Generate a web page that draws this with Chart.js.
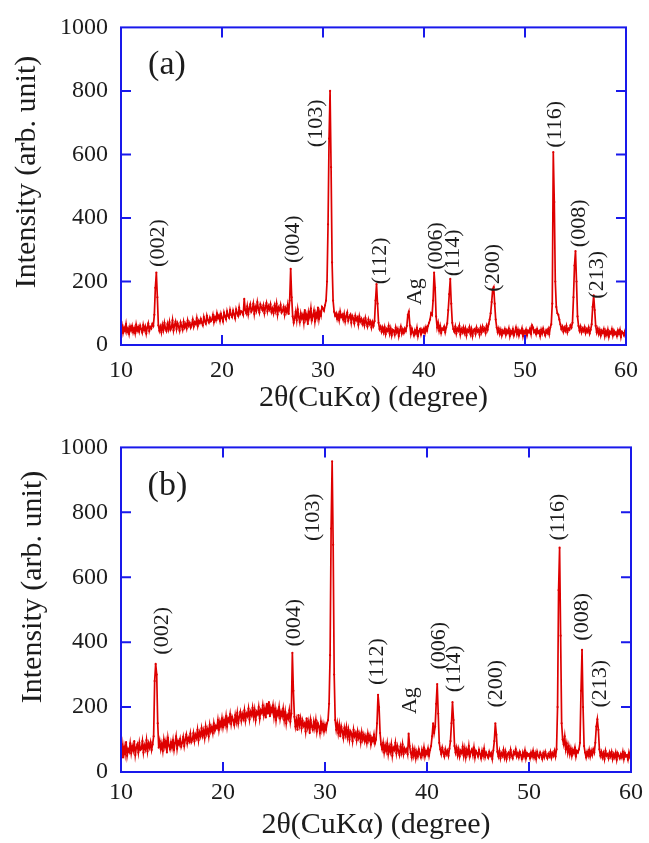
<!DOCTYPE html>
<html>
<head>
<meta charset="utf-8">
<script src="https://cdn.jsdelivr.net/npm/chart.js@4.4.1/dist/chart.umd.min.js"></script>
<style>
  html, body { margin: 0; padding: 0; background: #fff; }
  .panel { position: absolute; left: 0; width: 649px; }
  #wrapA { top: 0; height: 420px; }
  #wrapB { top: 420px; height: 423px; }
</style>
</head>
<body>
<div class="panel" id="wrapA"><canvas id="chartA"></canvas></div>
<div class="panel" id="wrapB"><canvas id="chartB"></canvas></div>
<script>
// intensities, one row per degree (x.0 .. x.9), last value is 60.0
const intensityA = [
  48, 62, 38, 55, 44, 66, 41, 52, 35, 58,          // 10
  46, 60, 40, 53, 37, 64, 45, 56, 42, 61,          // 11
  50, 39, 63, 47, 58, 36, 55, 68, 44, 57,          // 12
  52, 66, 60, 95, 180, 228, 150, 62, 45, 58,       // 13  (002)
  40, 63, 47, 70, 52, 44, 66, 50, 72, 48,          // 14
  55, 78, 46, 62, 74, 50, 68, 58, 45, 71,          // 15
  60, 48, 73, 56, 66, 52, 77, 61, 70, 55,          // 16
  64, 80, 58, 72, 66, 85, 60, 76, 69, 82,          // 17
  70, 62, 88, 74, 67, 92, 78, 71, 86, 75,          // 18
  80, 95, 72, 88, 78, 100, 84, 93, 76, 98,         // 19
  85, 74, 102, 90, 81, 106, 92, 86, 110, 95,       // 20
  88, 108, 96, 84, 112, 100, 92, 118, 98, 106,     // 21
  104, 95, 145, 110, 100, 122, 96, 115, 128, 105,  // 22
  112, 130, 98, 120, 108, 135, 115, 102, 128, 118, // 23
  110, 125, 100, 118, 132, 106, 122, 112, 128, 104,// 24
  115, 100, 124, 108, 130, 96, 118, 110, 126, 102, // 25
  108, 120, 95, 115, 104, 126, 98, 140, 240, 150,  // 26  (004)
  90, 70, 85, 105, 78, 112, 88, 72, 100, 84,       // 27
  95, 70, 110, 82, 96, 66, 104, 88, 115, 78,       // 28
  92, 108, 74, 100, 86, 118, 82, 105, 92, 120,     // 29
  115, 108, 125, 140, 200, 380, 650, 800, 560, 260,// 30  (103)
  140, 105, 92, 100, 82, 96, 78, 105, 88, 95,      // 31
  80, 98, 74, 90, 102, 76, 88, 95, 70, 92,         // 32
  84, 68, 92, 78, 86, 64, 90, 74, 82, 66,          // 33
  78, 62, 85, 70, 58, 80, 66, 74, 55, 72,          // 34
  60, 75, 140, 192, 130, 70, 50, 58, 42, 55,       // 35  (112)
  40, 56, 34, 50, 44, 60, 36, 52, 30, 48,          // 36
  45, 32, 55, 40, 50, 28, 46, 58, 36, 49,          // 37
  38, 52, 44, 60, 95, 105, 62, 35, 52, 40,         // 38  Ag
  30, 46, 36, 54, 28, 44, 50, 33, 48, 40,          // 39
  52, 38, 56, 45, 60, 70, 80, 100, 95, 140,        // 40
  228, 180, 90, 55, 70, 45, 60, 38, 52, 48,        // 41  (006)
  58, 40, 55, 68, 110, 160, 208, 130, 70, 50,      // 42  (114)
  42, 58, 36, 52, 45, 60, 33, 50, 40, 55,          // 43
  38, 52, 30, 48, 42, 56, 35, 50, 28, 46,          // 44
  50, 35, 55, 42, 48, 32, 54, 40, 58, 45,          // 45
  52, 38, 60, 48, 66, 80, 100, 135, 175, 182,      // 46  (200)
  130, 80, 55, 40, 52, 35, 48, 30, 45, 38,         // 47
  50, 32, 46, 38, 52, 28, 44, 36, 50, 30,          // 48
  42, 55, 34, 48, 30, 45, 38, 52, 28, 44,          // 49
  36, 48, 30, 45, 40, 52, 35, 62, 55, 40,          // 50
  46, 34, 50, 38, 44, 28, 48, 36, 52, 40,          // 51
  30, 46, 38, 50, 34, 55, 65, 130, 607, 450,       // 52  (116)
  200, 120, 100, 95, 80, 65, 50, 58, 42, 55,       // 53
  45, 60, 40, 52, 48, 62, 55, 70, 150, 250,        // 54
  296, 200, 90, 60, 45, 58, 40, 52, 44, 56,        // 55  (008)
  38, 50, 42, 55, 36, 48, 65, 120, 156, 110,       // 56  (213)
  60, 40, 52, 35, 48, 30, 45, 38, 50, 28,          // 57
  44, 32, 48, 26, 42, 36, 50, 30, 45, 34,          // 58
  40, 28, 46, 35, 48, 25, 42, 38, 30, 44,          // 59
  36                                               // 60
];

const intensityB = [
  60, 85, 45, 78, 55, 92, 50, 70, 62, 88,          // 10
  58, 80, 66, 95, 52, 75, 85, 60, 90, 68,          // 11
  72, 95, 60, 82, 70, 98, 64, 88, 75, 92,          // 12
  68, 85, 110, 280, 333, 300, 150, 75, 95, 70,     // 13  (002)
  88, 65, 100, 78, 95, 60, 105, 82, 70, 92,        // 14
  75, 98, 68, 90, 110, 72, 95, 85, 102, 78,        // 15
  90, 108, 80, 100, 115, 88, 105, 95, 118, 92,     // 16
  100, 120, 95, 115, 105, 130, 98, 122, 110, 135,  // 17
  112, 128, 105, 140, 118, 132, 110, 145, 125, 138,// 18
  120, 150, 128, 142, 135, 160, 130, 155, 140, 165,// 19
  138, 160, 145, 172, 140, 165, 155, 178, 148, 170,// 20
  160, 145, 175, 155, 182, 150, 170, 185, 158, 178,// 21
  165, 190, 158, 180, 172, 195, 162, 185, 175, 198,// 22
  170, 192, 160, 185, 178, 200, 165, 190, 182, 205,// 23
  175, 195, 168, 210, 180, 215, 172, 198, 185, 205,// 24
  170, 195, 160, 188, 175, 200, 165, 185, 172, 195,// 25
  160, 185, 150, 175, 165, 190, 155, 180, 367, 250,// 26  (004)
  170, 140, 160, 130, 175, 145, 165, 135, 158, 142,// 27
  150, 125, 165, 138, 155, 120, 160, 140, 130, 155,// 28
  135, 160, 125, 150, 140, 120, 155, 130, 148, 125,// 29
  145, 130, 150, 160, 210, 360, 750, 957, 700, 300,// 30  (103)
  160, 130, 150, 120, 145, 110, 140, 125, 105, 135,// 31
  115, 138, 108, 130, 100, 125, 118, 95, 130, 110, // 32
  120, 98, 125, 105, 118, 92, 122, 100, 115, 95,   // 33
  110, 90, 118, 98, 112, 85, 105, 95, 115, 88,     // 34
  100, 150, 238, 200, 120, 85, 70, 90, 60, 82,     // 35  (112)
  65, 88, 55, 78, 62, 85, 50, 75, 68, 90,          // 36
  58, 80, 65, 52, 78, 60, 85, 55, 72, 62,          // 37
  70, 55, 118, 80, 60, 45, 72, 50, 68, 42,         // 38  Ag
  62, 48, 70, 55, 45, 68, 52, 75, 48, 65,          // 39
  55, 72, 50, 68, 80, 110, 150, 120, 140, 210,     // 40
  271, 180, 90, 70, 55, 75, 60, 48, 70, 55,        // 41  (006)
  65, 50, 72, 95, 150, 215, 160, 80, 60, 75,       // 42  (114)
  52, 70, 48, 65, 58, 78, 50, 72, 45, 68,          // 43
  55, 80, 48, 62, 70, 52, 75, 45, 65, 58,          // 44
  48, 68, 55, 42, 65, 50, 72, 46, 60, 52,          // 45
  44, 62, 50, 58, 40, 66, 95, 150, 115, 62,        // 46  (200)
  48, 65, 42, 58, 50, 68, 45, 62, 40, 55,          // 47
  60, 45, 68, 50, 42, 62, 55, 70, 48, 58,          // 48
  45, 62, 52, 40, 60, 48, 66, 42, 58, 50,          // 49
  55, 42, 60, 48, 65, 45, 58, 40, 62, 50,          // 50
  45, 60, 52, 40, 58, 46, 62, 50, 42, 56,          // 51
  48, 62, 44, 58, 50, 65, 48, 70, 200, 560,        // 52
  691, 420, 150, 100, 85, 110, 70, 88, 60, 80,     // 53  (116)
  55, 72, 50, 68, 58, 75, 48, 65, 60, 70,          // 54
  90, 250, 376, 200, 80, 60, 45, 62, 50, 68,       // 55  (008)
  48, 65, 52, 70, 60, 90, 140, 162, 130, 70,       // 56  (213)
  50, 62, 45, 58, 40, 65, 50, 55, 42, 60,          // 57
  48, 62, 40, 55, 45, 60, 38, 58, 50, 42,          // 58
  55, 45, 62, 40, 58, 48, 52, 38, 60, 45,          // 59
  50                                               // 60
];

// 2θ sampling grid of the scan: 10.0 .. 60.0 in 0.1° steps
const twoTheta = intensityA.map((_, i) => +(10 + i * 0.1).toFixed(1));

const xTicks = [10, 20, 30, 40, 50, 60];
const yTicks = [0, 200, 400, 600, 800, 1000];

// peak labels: text, 2θ anchor and intensity where the label is centred
const peakTextA = ['(002)', '(004)', '(103)', '(112)', 'Ag', '(006)', '(114)', '(200)', '(116)', '(008)', '(213)'];
const peakXA = [13.72, 27.03, 29.37, 35.64, 39.16, 41.21, 42.85, 46.89, 52.96, 55.4, 57.16];
const peakYA = [321, 333, 698, 265, 168, 312, 290, 243, 695, 383, 221];
const peakXB = [14.07, 26.97, 28.82, 35.12, 38.32, 41.23, 42.69, 46.76, 52.87, 55.2, 56.94];
const peakYB = [435, 460, 785, 340, 220, 389, 318, 272, 785, 478, 272];

const RED = 'rgb(222, 0, 0)';
const BLUE = 'rgb(25, 25, 235)';
const TEXT = '#1c1c1c';
const SERIF = '"Liberation Serif", "Times New Roman", serif';

// blue box with inward ticks, plus the rotated peak labels and panel tag
const framePlugin = {
  id: 'frame',
  afterDraw(chart, args, opts) {
    const { ctx, chartArea: a } = chart;
    const xs = chart.scales.x, ys = chart.scales.y;
    const tick = 10;
    ctx.save();
    ctx.strokeStyle = BLUE;
    ctx.lineWidth = 2;
    ctx.strokeRect(a.left, a.top, a.right - a.left, a.bottom - a.top);
    ctx.beginPath();
    xTicks.slice(1, -1).forEach(v => {
      const px = xs.getPixelForValue(v);
      ctx.moveTo(px, a.bottom); ctx.lineTo(px, a.bottom - tick);
      ctx.moveTo(px, a.top); ctx.lineTo(px, a.top + tick);
    });
    yTicks.slice(1, -1).forEach(v => {
      const py = ys.getPixelForValue(v);
      ctx.moveTo(a.left, py); ctx.lineTo(a.left + tick, py);
      ctx.moveTo(a.right, py); ctx.lineTo(a.right - tick, py);
    });
    ctx.stroke();

    ctx.fillStyle = TEXT;
    ctx.textAlign = 'center';
    ctx.textBaseline = 'middle';
    ctx.font = '22px ' + SERIF;
    opts.texts.forEach((t, i) => {
      ctx.save();
      ctx.translate(xs.getPixelForValue(opts.xs[i]), ys.getPixelForValue(opts.ys[i]));
      ctx.rotate(-Math.PI / 2);
      ctx.fillText(t, 0, 0);
      ctx.restore();
    });

    ctx.font = '34px ' + SERIF;
    ctx.fillText(opts.tag, xs.getPixelForValue(14.55), ys.getPixelForValue(880));

    // y axis title
    ctx.save();
    ctx.font = '30px ' + SERIF;
    ctx.translate(opts.titleX, opts.titleY);
    ctx.rotate(-Math.PI / 2);
    ctx.fillText('Intensity (arb. unit)', 0, 0);
    ctx.restore();
    ctx.restore();
  }
};

function makeChart(id, values, p) {
  const points = values.map((v, i) => ({ x: twoTheta[i], y: v }));
  return new Chart(document.getElementById(id), {
    type: 'line',
    data: {
      datasets: [{
        data: points,
        borderColor: RED,
        backgroundColor: RED,
        borderWidth: 1.7,
        pointRadius: 1.1,
        pointBorderWidth: 0,
        pointBackgroundColor: RED,
        tension: 0
      }]
    },
    plugins: [framePlugin],
    options: {
      responsive: true,
      maintainAspectRatio: false,
      animation: false,
      layout: { padding: { top: p.top, right: p.right, left: 0, bottom: 0 } },
      plugins: {
        legend: { display: false },
        tooltip: { enabled: false },
        frame: { texts: p.texts, xs: p.xs, ys: p.ys, tag: p.tag, titleX: p.titleX, titleY: p.titleY }
      },
      scales: {
        x: {
          type: 'linear',
          min: 10, max: 60,
          afterBuildTicks: s => { s.ticks = xTicks.map(v => ({ value: v })); },
          afterFit: s => { s.height = p.xHeight; },
          grid: { display: false, drawTicks: false },
          border: { display: false },
          ticks: { color: TEXT, padding: p.xPad, font: { family: SERIF, size: 24 }, callback: v => String(v) },
          title: {
            display: true,
            text: '2θ(CuKα) (degree)',
            color: TEXT,
            padding: { top: 0, bottom: p.titlePad },
            font: { family: SERIF, size: 30 }
          }
        },
        y: {
          min: 0, max: 1000,
          afterBuildTicks: s => { s.ticks = yTicks.map(v => ({ value: v })); },
          afterFit: s => { s.width = 121; },
          grid: { display: false, drawTicks: false },
          border: { display: false },
          ticks: { color: TEXT, padding: 13, font: { family: SERIF, size: 24 }, callback: v => String(v) }
        }
      }
    }
  });
}

makeChart('chartA', intensityA, {
  top: 24, right: 17, xHeight: 75, xPad: 11, titlePad: 4,
  texts: peakTextA, xs: peakXA, ys: peakYA, tag: '(a)', titleX: 27, titleY: 172
});
makeChart('chartB', intensityB, {
  top: 26, right: 12, xHeight: 71, xPad: 6, titlePad: 0,
  texts: peakTextA, xs: peakXB, ys: peakYB, tag: '(b)', titleX: 33, titleY: 167
});
</script>
</body>
</html>
